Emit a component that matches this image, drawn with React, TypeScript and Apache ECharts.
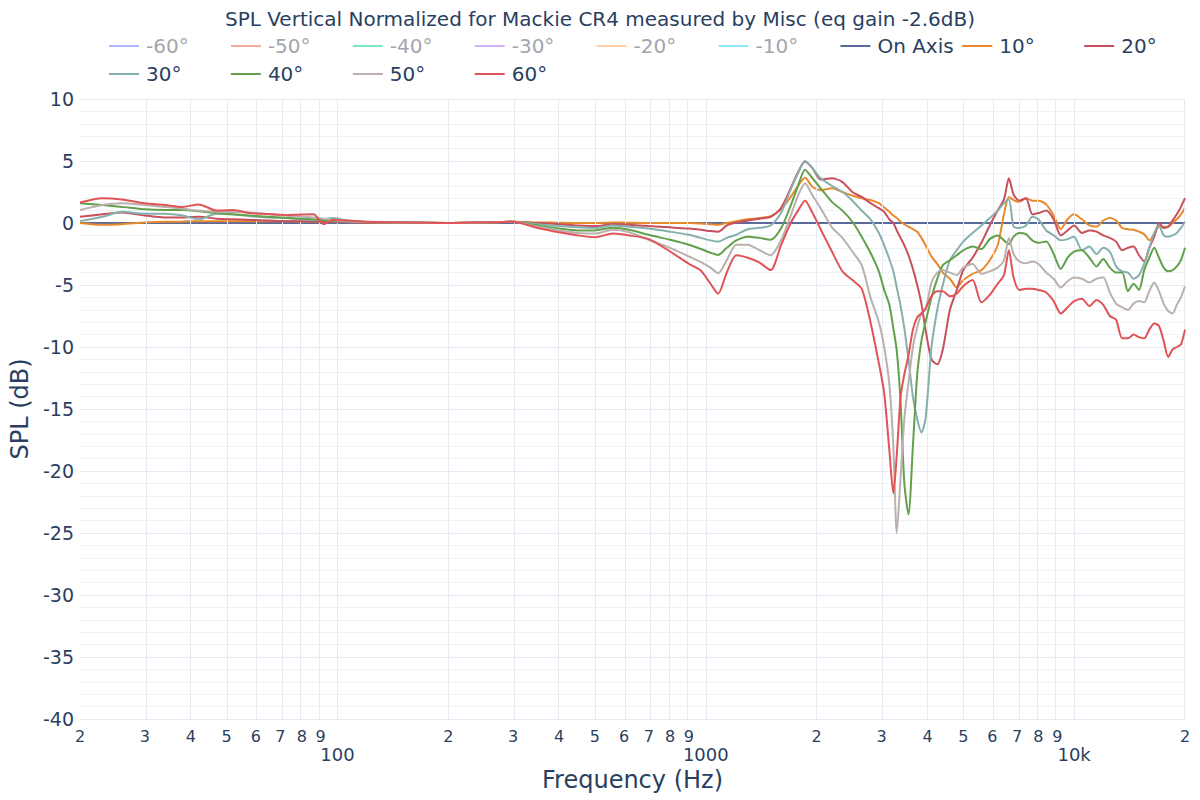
import React, { useEffect, useRef } from "react";
import * as echarts from "echarts";

const TITLE = "SPL Vertical Normalized for Mackie CR4 measured by Misc (eq gain -2.6dB)";
const TEXT_COLOR = "#2a3f5f";
const FONT = "DejaVu Sans, Verdana, sans-serif";

const FREQ = [
  20, 23, 26, 30, 34, 38, 42, 47, 52, 58,
  65, 72, 80, 86, 92, 97, 105, 120, 150, 200,
  250, 300, 350, 400, 450, 500, 560, 620, 700, 800,
  900, 970, 1030, 1080, 1140, 1210, 1300, 1400, 1500, 1600,
  1700, 1780, 1860, 1950, 2050, 2200, 2350, 2500, 2650, 2800,
  2950, 3050, 3150, 3230, 3300, 3380, 3460, 3550, 3650, 3750,
  3850, 3950, 4100, 4250, 4400, 4600, 4800, 5000, 5300, 5600,
  5900, 6200, 6450, 6650, 6850, 7100, 7400, 7700, 8000, 8400,
  8800, 9200, 9600, 10000, 10500, 11000, 11500, 12000, 12500, 13000,
  13500, 14000, 14500, 15000, 15500, 16000, 16500, 17000, 17500, 18000,
  18500, 19000, 19500, 20000,
];

const ON_AXIS_FREQ = [20, 20000];
const ON_AXIS_SPL = [0, 0];

const SPL_10 = [
  0.0, -0.15, -0.1, 0.05, 0.1, 0.12, 0.15, 0.15, 0.15, 0.15,
  0.15, 0.15, 0.12, 0.12, 0.1, 0.1, 0.08, 0.05, 0.03, 0.0,
  0.05, 0.1, 0.05, 0.02, 0.0, 0.0, 0.05, 0.02, 0.0, 0.0,
  0.0, -0.05, -0.1, -0.15, 0.0, 0.15, 0.3, 0.4, 0.55, 1.1,
  2.1, 3.0, 3.65, 2.9, 2.65, 2.8, 2.5, 2.2, 2.0, 1.85,
  1.6, 1.25, 0.9, 0.6, 0.4, 0.1, -0.1, -0.3, -0.5, -0.7,
  -1.2, -1.8, -2.7, -3.3, -4.0, -4.5, -5.2, -4.6, -4.1, -3.8,
  -3.0, -1.8, 0.7, 2.1, 1.85, 1.7, 2.0, 1.8, 1.8, 1.5,
  0.6, -0.5, 0.3, 0.7, 0.3, -0.2, -0.3, 0.2, 0.4, 0.2,
  -0.4, -0.5, -0.55, -0.7, -0.9, -1.4, -0.9, -0.3, -0.3, -0.3,
  0.0, 0.3, 0.7, 1.2,
];

const SPL_20 = [
  0.5, 0.7, 0.85, 0.6, 0.45, 0.45, 0.5, 0.35, 0.3, 0.25,
  0.2, 0.15, 0.15, 0.12, 0.1, 0.1, 0.08, 0.05, 0.03, 0.0,
  0.05, 0.1, 0.0, -0.1, -0.2, -0.25, -0.1, -0.15, -0.25, -0.35,
  -0.45, -0.55, -0.65, -0.7, -0.2, 0.03, 0.2, 0.35, 0.5, 1.2,
  2.8, 4.1, 4.95, 4.4, 3.5, 3.6, 3.3, 2.5, 2.1, 1.6,
  1.2, 0.9, 0.3, 0.0, -0.6, -1.2, -1.8, -2.6, -3.7, -5.0,
  -6.5, -8.6, -11.0, -11.4, -10.2, -7.0, -5.4, -3.8, -2.8, -1.6,
  -0.2, 1.0, 1.9, 3.6, 2.3, 1.8, 2.0, 0.7, 0.8, 1.0,
  0.3, -1.0, -0.6, -0.2, -0.8, -0.6, -0.7, -1.0, -1.2, -1.5,
  -2.2, -2.0, -1.9, -2.6, -3.1, -2.0, -1.1, 0.0, -0.4, -0.3,
  0.2, 0.7, 1.3, 2.0,
];

const SPL_30 = [
  0.15, 0.5, 0.9, 0.75, 0.75, 0.6, 0.3, 0.75, 0.7, 0.55,
  0.45, 0.4, 0.3, 0.25, 0.3, 0.4, 0.25, 0.1, 0.05, 0.0,
  0.05, 0.1, -0.1, -0.25, -0.35, -0.4, -0.2, -0.3, -0.45, -0.7,
  -0.95, -1.2, -1.4, -1.5, -1.2, -0.95, -0.5, -0.38, -0.2, 0.8,
  2.7, 4.0, 5.0, 4.4, 3.6, 3.0, 2.5, 1.8, 1.0, 0.3,
  -0.8, -1.8, -2.9, -3.9, -5.2, -6.7, -8.5, -11.0, -14.0, -15.8,
  -16.9, -15.8, -10.0, -7.0, -5.0, -3.0, -2.2, -1.5, -0.8, -0.2,
  0.4, 1.0, 1.6, 1.9, -0.3, -0.4, -0.2, 0.5, 0.3, -0.6,
  -1.0, -1.4, -1.3, -1.1, -2.2, -1.9, -2.5, -2.0, -2.3, -3.5,
  -3.9, -4.0, -4.5, -4.2, -3.3, -2.0, -0.8, -0.2, -1.0, -1.1,
  -1.0, -0.8, -0.4, 0.1,
];

const SPL_40 = [
  1.6, 1.45, 1.3, 1.1, 1.05, 1.05, 0.95, 0.8, 0.7, 0.6,
  0.5, 0.43, 0.35, 0.3, 0.22, 0.16, 0.12, 0.08, 0.05, 0.0,
  0.05, 0.1, -0.2, -0.45, -0.6, -0.6, -0.38, -0.55, -0.95, -1.35,
  -1.75, -2.1, -2.4, -2.58, -2.0, -1.4, -1.1, -1.2, -1.35, -0.45,
  1.4, 3.0, 4.3, 3.6, 2.8, 1.7, 1.0, 0.1, -1.1, -2.4,
  -3.9, -5.4, -6.6, -8.5, -10.3, -14.5, -21.0, -23.5, -18.0, -12.2,
  -9.5, -8.0, -6.0, -4.5, -3.4, -3.0, -2.6, -2.2, -1.9, -2.1,
  -1.3, -1.0, -1.4, -1.7, -1.1, -0.8, -0.9, -1.4, -1.6, -1.5,
  -2.5, -3.7, -2.8, -2.3, -2.2, -2.8, -3.5, -2.9, -3.6, -4.0,
  -4.0, -5.5, -4.9, -5.4, -3.8, -2.8, -2.0, -2.8, -3.6, -3.9,
  -3.8, -3.5, -3.0, -2.0,
];

const SPL_50 = [
  1.05, 1.45, 1.6, 1.45, 1.3, 1.15, 1.0, 0.9, 0.88, 0.85,
  0.7, 0.6, 0.5, 0.45, 0.35, 0.25, 0.15, 0.08, 0.05, 0.0,
  0.05, 0.1, -0.3, -0.6, -0.8, -0.85, -0.55, -0.75, -1.35, -2.0,
  -2.7, -3.15, -3.6, -4.05, -3.0, -1.75, -1.75, -2.2, -2.6, -1.4,
  0.6, 2.2, 3.2, 2.2, 1.2, -0.35, -1.2, -2.3, -3.4, -6.0,
  -8.0, -10.0, -13.0, -18.0, -25.0, -20.5, -15.8, -12.9, -10.0, -8.4,
  -7.3, -7.0, -4.8, -4.0, -3.8, -4.0, -4.2, -3.6, -3.3, -4.1,
  -3.9, -3.6, -3.0, -1.2, -2.5, -3.1, -3.25, -3.1, -3.3, -4.0,
  -4.5, -5.2, -4.7, -4.4, -4.5, -4.8, -4.5, -4.4, -5.6, -6.5,
  -6.8, -7.0, -6.5, -6.3, -6.4, -5.5, -4.8, -5.5, -6.5, -7.1,
  -7.3, -6.6, -6.0, -5.1,
];

const SPL_60 = [
  1.65, 2.0, 1.9, 1.6, 1.45, 1.3, 1.5, 1.0, 1.05, 0.8,
  0.72, 0.65, 0.68, 0.7, -0.1, 0.24, 0.2, 0.1, 0.05, 0.0,
  0.05, 0.1, -0.4, -0.75, -1.0, -1.15, -0.85, -1.0, -1.3, -2.3,
  -3.3, -3.85, -4.9, -5.7, -4.0, -2.6, -2.8, -3.2, -3.8, -1.8,
  0.0, 1.0, 1.8, 0.8, -0.5, -2.3, -3.9, -4.6, -5.3, -8.0,
  -11.3, -13.7, -18.3, -21.8, -18.7, -14.0, -12.2, -10.7, -8.6, -7.6,
  -7.3, -6.9, -5.9, -5.5, -5.5, -5.9, -5.7, -5.1, -4.6, -6.4,
  -5.8, -4.9, -4.2, -2.2, -4.4, -5.4, -5.3, -5.3, -5.4, -5.6,
  -6.3, -7.3, -6.8, -6.3, -6.1, -6.7, -6.2, -6.6, -7.5, -7.8,
  -9.3, -9.3, -9.0, -9.2, -9.3, -8.6, -8.1, -8.3, -9.5, -10.8,
  -10.2, -10.0, -9.8, -8.6,
];

const HIDDEN_NAMES = ["-60°", "-50°", "-40°", "-30°", "-20°", "-10°"];
const HIDDEN_COLORS = ["#636efa", "#EF553B", "#00cc96", "#ab63fa", "#FFA15A", "#19d3f3"];

const VISIBLE_NAMES = ["On Axis", "10°", "20°", "30°", "40°", "50°", "60°"];
const VISIBLE_COLORS = ["#5a6b9b", "#e8892c", "#c84f5c", "#86b0ae", "#63a04b", "#bab1ae", "#e05356"];

const X_TICKS = [
  20, 30, 40, 50, 60, 70, 80, 90,
  100, 200, 300, 400, 500, 600, 700, 800, 900,
  1000, 2000, 3000, 4000, 5000, 6000, 7000, 8000, 9000,
  10000, 20000,
];
const MAJOR_LABELS: Record<number, string> = { 100: "100", 1000: "1000", 10000: "10k" };

const LEGEND_ROWS = [
  ["-60°", "-50°", "-40°", "-30°", "-20°", "-10°", "On Axis", "10°", "20°"],
  ["30°", "40°", "50°", "60°"],
];

export default function App() {
  const ref = useRef<HTMLDivElement>(null);

  useEffect(() => {
    if (!ref.current) return;
    const chart = echarts.init(ref.current, null, { renderer: "svg" });

    const visibleData = [
      ON_AXIS_FREQ.map((f, i) => [Math.log10(f), ON_AXIS_SPL[i]]),
      ...[SPL_10, SPL_20, SPL_30, SPL_40, SPL_50, SPL_60].map((arr) =>
        FREQ.map((f, i) => [Math.log10(f), arr[i]])
      ),
    ];

    const series: any[] = [];
    series.push({
      name: "_grid",
      type: "line",
      data: ON_AXIS_FREQ.map((f, i) => [Math.log10(f), ON_AXIS_SPL[i]]),
      symbol: "none",
      lineStyle: { opacity: 0 },
      silent: true,
      z: 1,
      markLine: {
        silent: true,
        symbol: "none",
        label: { show: false },
        lineStyle: { color: "#e6ebf3", width: 1, type: "solid" },
        data: X_TICKS.map((f) => ({ xAxis: Math.log10(f) })),
      },
    });
    HIDDEN_NAMES.forEach((n, i) => {
      series.push({
        name: n,
        type: "line",
        data: [],
        symbol: "none",
        color: HIDDEN_COLORS[i],
      });
    });
    VISIBLE_NAMES.forEach((n, i) => {
      series.push({
        name: n,
        type: "line",
        data: visibleData[i],
        symbol: "none",
        showSymbol: false,
        smooth: 0.25,
        color: VISIBLE_COLORS[i],
        lineStyle: { width: 2, color: VISIBLE_COLORS[i] },
        z: 3 + i,
      });
    });

    const colX = (c: number) => 109 + c * 121.9;
    const legends: any[] = [];
    LEGEND_ROWS.forEach((row, r) => {
      row.forEach((name, c) => {
        const hidden = HIDDEN_NAMES.indexOf(name);
        const item: any = { name };
        if (hidden >= 0) {
          item.itemStyle = { color: HIDDEN_COLORS[hidden], opacity: 0.5 };
          item.textStyle = { color: "#a2a6ac" };
        }
        legends.push({
          show: true,
          left: colX(c),
          top: r === 0 ? 36 : 64,
          padding: 0,
          itemGap: 0,
          itemWidth: 30,
          itemHeight: 2,
          icon: "rect",
          selectedMode: false,
          textStyle: { fontSize: 20, color: TEXT_COLOR, fontFamily: FONT, padding: [0, 0, 0, 2] },
          data: [item],
        });
      });
    });

    chart.setOption({
      animation: false,
      backgroundColor: "#ffffff",
      textStyle: { fontFamily: FONT },
      title: {
        text: TITLE,
        left: "center",
        top: 4,
        textStyle: { fontSize: 20, fontWeight: "normal", color: TEXT_COLOR, fontFamily: FONT },
      },
      legend: legends,
      grid: { left: 80, right: 15, top: 99, bottom: 81, containLabel: false, outerBoundsMode: "none" },
      xAxis: {
        type: "value",
        min: Math.log10(20),
        max: Math.log10(20000),
        axisLine: { show: false },
        axisTick: { show: false },
        splitLine: { show: false },
        axisLabel: {
          customValues: X_TICKS.map((f) => Math.log10(f)),
          color: TEXT_COLOR,
          fontSize: 16,
          fontFamily: FONT,
          margin: 9,
          formatter: (v: number) => {
            const f = Math.round(Math.pow(10, v));
            if (MAJOR_LABELS[f]) return "{major|" + MAJOR_LABELS[f] + "}";
            const d = Math.round(f / Math.pow(10, Math.floor(Math.log10(f) + 1e-9)));
            return String(d);
          },
          rich: {
            major: { fontSize: 18, color: TEXT_COLOR, fontFamily: FONT, padding: [17, 0, 0, 0] },
          },
        },
        name: "Frequency (Hz)",
        nameLocation: "middle",
        nameGap: 46,
        nameTextStyle: { fontSize: 24, color: TEXT_COLOR, fontFamily: FONT },
      },
      yAxis: {
        type: "value",
        min: -40,
        max: 10,
        interval: 5,
        axisLine: { show: false },
        axisTick: { show: false },
        axisLabel: { color: TEXT_COLOR, fontSize: 19, fontFamily: FONT, margin: 6 },
        splitLine: { show: true, lineStyle: { color: "#e6ebf3", width: 1 } },
        minorTick: { show: false, splitNumber: 5 },
        minorSplitLine: { show: true, lineStyle: { color: "#eff2f7", width: 1 } },
        name: "SPL (dB)",
        nameLocation: "middle",
        nameGap: 40,
        nameTextStyle: { fontSize: 24, color: TEXT_COLOR, fontFamily: FONT },
      },
      series,
    });

    return () => chart.dispose();
  }, []);

  return (
    <div
      ref={ref}
      style={{ position: "fixed", left: 0, top: 0, width: 1200, height: 800, background: "#fff" }}
    />
  );
}
